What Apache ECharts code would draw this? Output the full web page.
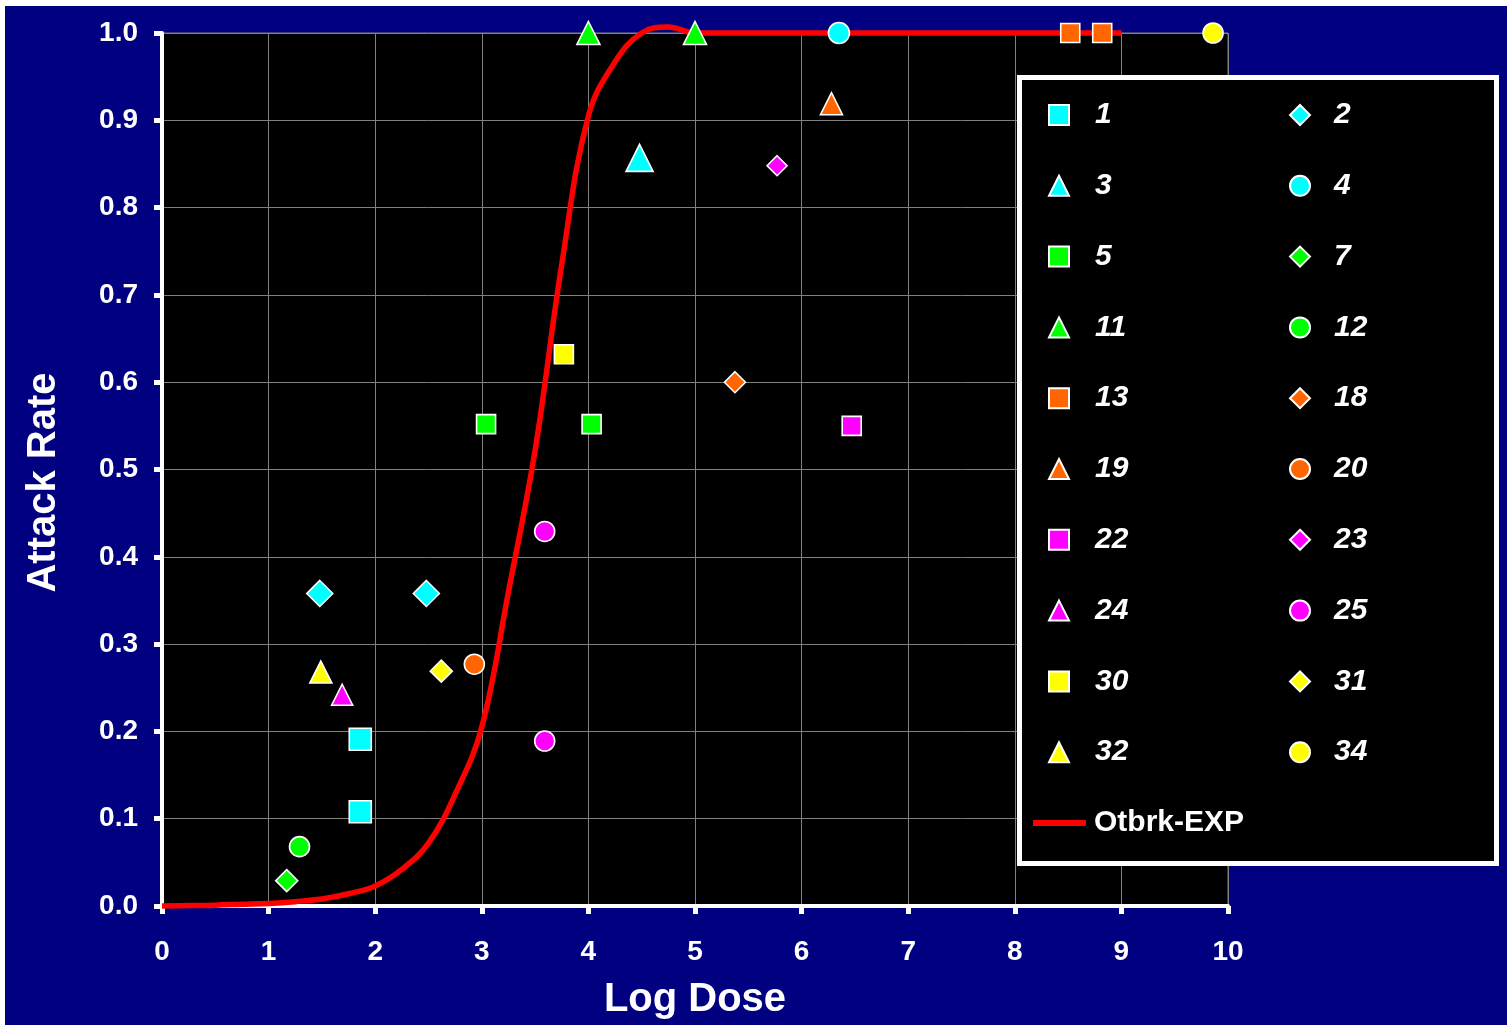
<!DOCTYPE html>
<html>
<head>
<meta charset="utf-8">
<title>Attack Rate vs Log Dose</title>
<script src="https://cdn.jsdelivr.net/npm/echarts@6/dist/echarts.min.js"></script>
<style>
  html, body { margin: 0; padding: 0; background: #fff; }
  #chart { width: 1507px; height: 1025px; }
</style>
</head>
<body>
<div id="chart"></div>
<script>
  // observed outbreaks: [log dose, attack rate]
  const ob1 = [[1.86, 0.191], [1.86, 0.108]];
  const ob2 = [[1.48, 0.358], [2.48, 0.358]];
  const ob3 = [[4.48, 0.857]];
  const ob4 = [[6.35, 1.0]];
  const ob5 = [[3.04, 0.552], [4.03, 0.552]];
  const ob7 = [[1.17, 0.029]];
  const ob11 = [[4.0, 1.0], [5.0, 1.0]];
  const ob12 = [[1.29, 0.068]];
  const ob13 = [[8.52, 1.0], [8.82, 1.0]];
  const ob18 = [[5.375, 0.600]];
  const ob19 = [[6.28, 0.919]];
  const ob20 = [[2.93, 0.277]];
  const ob22 = [[6.47, 0.550]];
  const ob23 = [[5.77, 0.848]];
  const ob24 = [[1.69, 0.242]];
  const ob25 = [[3.59, 0.429], [3.59, 0.189]];
  const ob30 = [[3.77, 0.632]];
  const ob31 = [[2.62, 0.269]];
  const ob32 = [[1.49, 0.268]];
  const ob34 = [[9.86, 1.0]];

  // fitted exponential curve
  const fitDose = [0, 0.25, 0.5, 0.75, 1, 1.25, 1.5, 1.75, 2, 2.25, 2.5, 2.75, 3, 3.25, 3.5, 3.75, 4, 4.25, 4.5, 4.75, 5, 6, 7, 8, 9];
  const fitRate = [0, 0.0005, 0.001, 0.002, 0.003, 0.005, 0.008, 0.014, 0.023, 0.042, 0.072, 0.128, 0.205, 0.36, 0.522, 0.735, 0.905, 0.967, 1.0, 1.007, 1.0, 1.0, 1.0, 1.0, 1.0];

  const xTicks = { min: 0, max: 10, step: 1 };
  const yTicks = { min: 0, max: 1, step: 0.1 };

  const legendLeft = ['1', '3', '5', '11', '13', '19', '22', '24', '30', '32'];
  const legendRight = ['2', '4', '7', '12', '18', '20', '23', '25', '31', '34'];
  const legendFit = ['Otbrk-EXP'];

  const CYAN = '#00ffff', GREEN = '#00ff00', ORANGE = '#ff6600', MAGENTA = '#ff00ff', YELLOW = '#ffff00';
  const FONT = '"Liberation Sans", Arial, sans-serif';

  const markers = [
    { name: '1', data: ob1, symbol: 'rect', color: CYAN, size: 22 },
    { name: '2', data: ob2, symbol: 'diamond', color: CYAN, size: 26 },
    { name: '3', data: ob3, symbol: 'triangle', color: CYAN, size: 27 },
    { name: '4', data: ob4, symbol: 'circle', color: CYAN, size: 21 },
    { name: '5', data: ob5, symbol: 'rect', color: GREEN, size: 19 },
    { name: '7', data: ob7, symbol: 'diamond', color: GREEN, size: 22 },
    { name: '11', data: ob11, symbol: 'triangle', color: GREEN, size: 23 },
    { name: '12', data: ob12, symbol: 'circle', color: GREEN, size: 20 },
    { name: '13', data: ob13, symbol: 'rect', color: ORANGE, size: 19 },
    { name: '18', data: ob18, symbol: 'diamond', color: ORANGE, size: 21 },
    { name: '19', data: ob19, symbol: 'triangle', color: ORANGE, size: 22 },
    { name: '20', data: ob20, symbol: 'circle', color: ORANGE, size: 20 },
    { name: '22', data: ob22, symbol: 'rect', color: MAGENTA, size: 19 },
    { name: '23', data: ob23, symbol: 'diamond', color: MAGENTA, size: 20 },
    { name: '24', data: ob24, symbol: 'triangle', color: MAGENTA, size: 21 },
    { name: '25', data: ob25, symbol: 'circle', color: MAGENTA, size: 20 },
    { name: '30', data: ob30, symbol: 'rect', color: YELLOW, size: 19 },
    { name: '31', data: ob31, symbol: 'diamond', color: YELLOW, size: 22 },
    { name: '32', data: ob32, symbol: 'triangle', color: YELLOW, size: 22 },
    { name: '34', data: ob34, symbol: 'circle', color: YELLOW, size: 20 }
  ];

  const chart = echarts.init(document.getElementById('chart'));

  const series = [{
    name: 'Otbrk-EXP',
    type: 'line',
    data: fitDose.map((d, i) => [d, fitRate[i]]),
    smooth: 0.4,
    showSymbol: false,
    symbol: 'none',
    clip: false,
    z: 2,
    lineStyle: { color: '#ff0000', width: 5.5 },
    itemStyle: { color: '#ff0000' }
  }];
  markers.forEach(m => {
    series.push({
      name: m.name,
      type: 'scatter',
      data: m.data,
      symbol: m.symbol,
      symbolSize: m.size,
      clip: false,
      z: 3,
      itemStyle: { color: m.color, borderColor: '#fff', borderWidth: 1.6, opacity: 1 }
    });
  });

  function legendText(padLeft, italic) {
    return { color: '#fff', fontSize: 30, fontWeight: 'bold', fontStyle: italic ? 'italic' : 'normal',
      fontFamily: FONT, lineHeight: 30, padding: [0, 0, 0, padLeft] };
  }
  const ROW_TOP = 100, ROW_GAP = 40.8;

  const option = {
    backgroundColor: '#000080',
    animation: false,
    grid: {
      left: 162, top: 33, width: 1066, height: 873,
      show: true, backgroundColor: '#000', borderColor: '#808080', borderWidth: 1
    },
    xAxis: {
      type: 'value',
      min: xTicks.min, max: xTicks.max, interval: xTicks.step,
      name: 'Log Dose', nameLocation: 'middle', nameGap: 74,
      nameTextStyle: { color: '#fff', fontSize: 40, fontWeight: 'bold', fontFamily: FONT },
      axisLine: { show: true, onZero: false, lineStyle: { color: '#fff', width: 4 } },
      axisTick: { show: true, length: 8, lineStyle: { color: '#fff', width: 5 } },
      axisLabel: { color: '#fff', fontSize: 28, fontWeight: 'bold', fontFamily: FONT, margin: 32 },
      splitLine: { show: true, lineStyle: { color: '#808080', width: 1 } }
    },
    yAxis: {
      type: 'value',
      min: yTicks.min, max: yTicks.max, interval: yTicks.step,
      name: 'Attack Rate', nameLocation: 'middle', nameGap: 98,
      nameTextStyle: { color: '#fff', fontSize: 40, fontWeight: 'bold', fontFamily: FONT, padding: [0, 26, 0, 0] },
      axisLine: { show: true, onZero: false, lineStyle: { color: '#fff', width: 4 } },
      axisTick: { show: true, length: 8, lineStyle: { color: '#fff', width: 5 } },
      axisLabel: { color: '#fff', fontSize: 28, fontWeight: 'bold', fontFamily: FONT, margin: 24,
        formatter: v => v.toFixed(1) },
      splitLine: { show: true, lineStyle: { color: '#808080', width: 1 } }
    },
    graphic: [
      { type: 'rect', z: 100, shape: { x: 0, y: 0, width: 1507, height: 6 }, style: { fill: '#fff' } },
      { type: 'rect', z: 100, shape: { x: 0, y: 0, width: 5, height: 1025 }, style: { fill: '#fff' } },
      { type: 'rect', z: 10, shape: { x: 1019.5, y: 77.5, width: 477, height: 786 },
        style: { fill: '#000', stroke: '#fff', lineWidth: 5 } }
    ],
    legend: [
      {
        orient: 'vertical', left: 1048, top: ROW_TOP, padding: 0, z: 20,
        itemWidth: 20, itemHeight: 20, itemGap: ROW_GAP, selectedMode: false,
        textStyle: legendText(21, true), data: legendLeft
      },
      {
        orient: 'vertical', left: 1289, top: ROW_TOP, padding: 0, z: 20,
        itemWidth: 20, itemHeight: 20, itemGap: ROW_GAP, selectedMode: false,
        textStyle: legendText(19, true), data: legendRight
      },
      {
        orient: 'vertical', left: 1033, top: ROW_TOP + 10 * (30 + ROW_GAP), padding: 0, z: 20,
        itemWidth: 53, itemHeight: 6, icon: 'rect', selectedMode: false,
        textStyle: legendText(3, false), data: legendFit
      }
    ],
    series: series
  };

  chart.setOption(option);
</script>
</body>
</html>
